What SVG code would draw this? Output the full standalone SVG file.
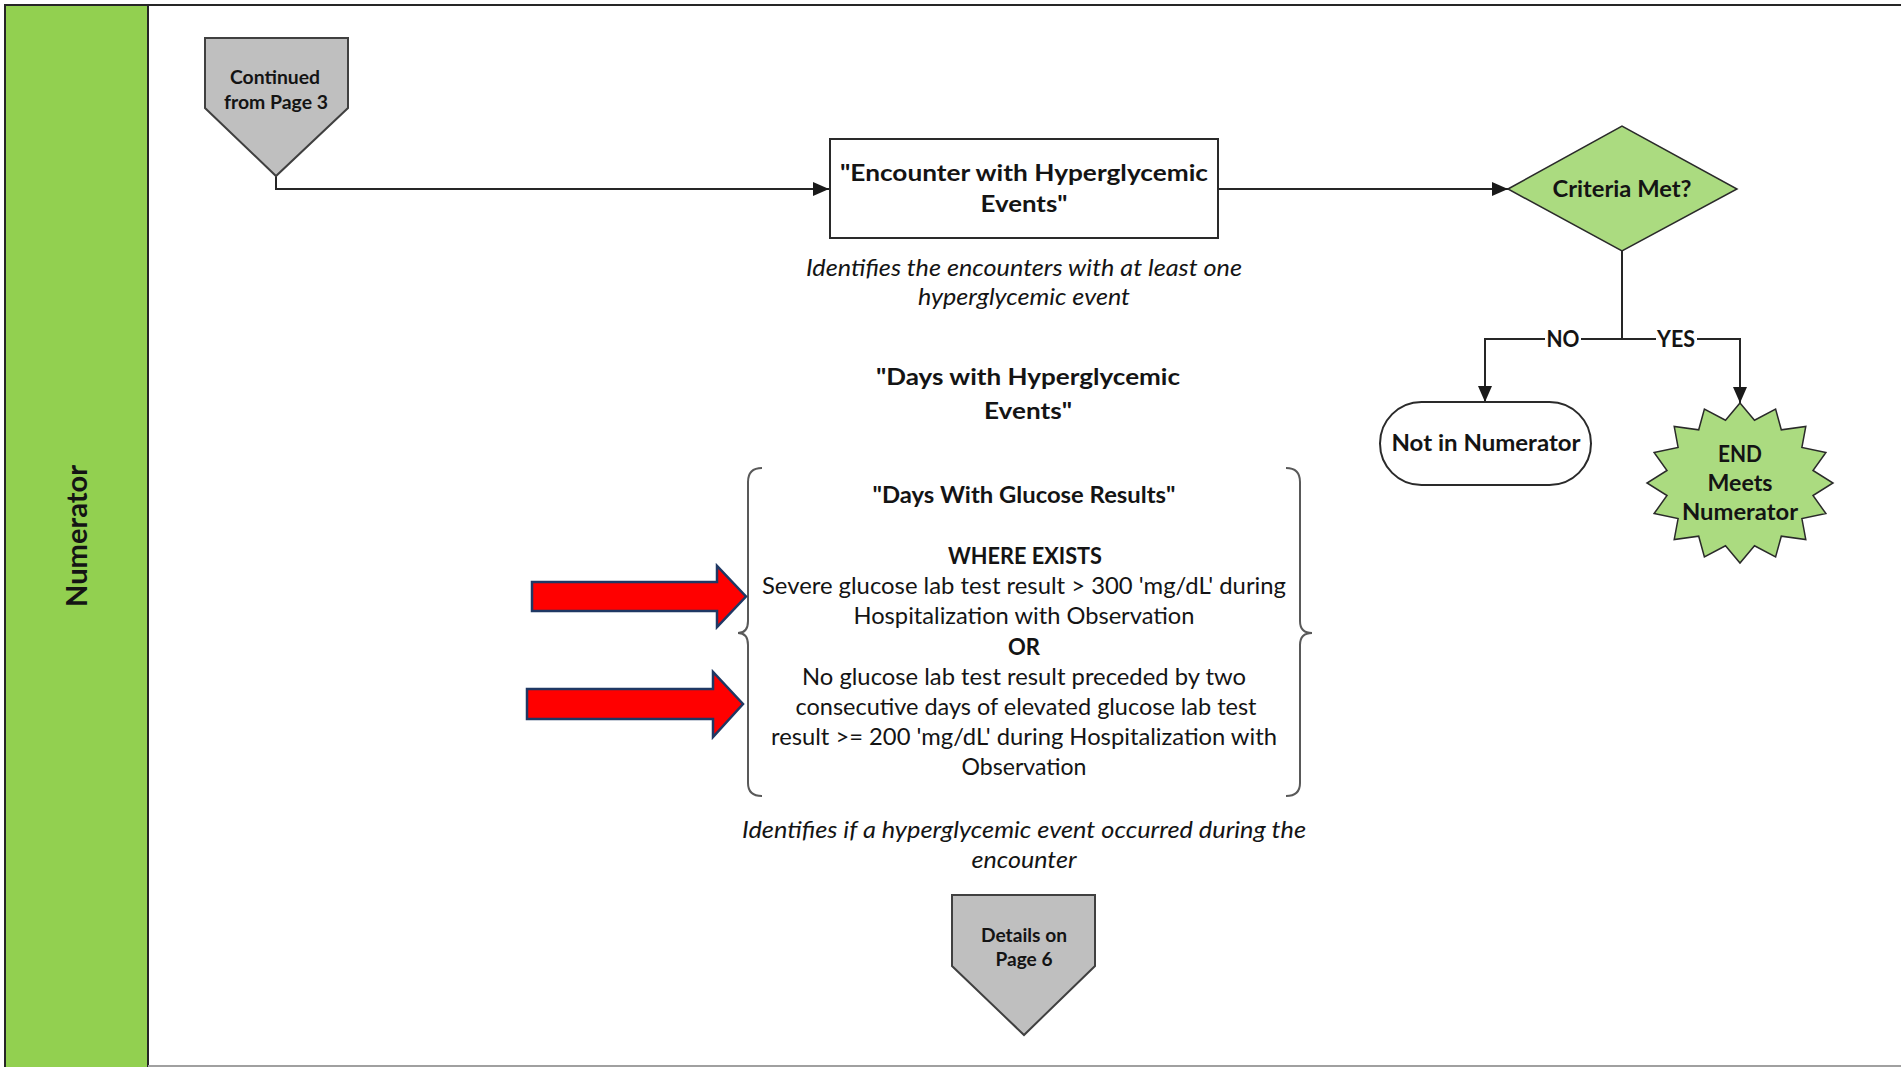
<svg xmlns="http://www.w3.org/2000/svg" width="1901" height="1067" viewBox="0 0 1901 1067">
<defs>
<marker id="ah" markerUnits="userSpaceOnUse" markerWidth="16" markerHeight="14" refX="16" refY="7" orient="auto">
<path d="M0,0 L16,7 L0,14 z" fill="#1a1a1a"/>
</marker>
<style>
text{font-family:Lato,"Liberation Sans",sans-serif;fill:#141414;text-anchor:middle}
.b{font-weight:700;font-size:23px}
.r{font-size:23px}
.i{font-style:italic;font-size:23px}
.s{font-weight:700;font-size:19px}
.ln{fill:none;stroke:#262626;stroke-width:2}
.shape{stroke:#2a2a2a;stroke-width:2}
.pent{fill:#bfbfbf;stroke:#404040;stroke-width:2}
.green{fill:#abdb80;stroke:#2a2a2a;stroke-width:1.5}
.brace{fill:none;stroke:#595959;stroke-width:2}
.red{fill:#ff0000;stroke:#1f3864;stroke-width:2.5;stroke-linejoin:miter}
</style>
</defs>
<rect x="0" y="0" width="1901" height="1067" fill="#ffffff"/>
<g id="frame">
<rect x="5" y="5" width="143" height="1070" fill="#92d050" stroke="#262626" stroke-width="2"/>
<line x1="5" y1="5" x2="1901" y2="5" stroke="#262626" stroke-width="2"/>
<line x1="148" y1="1066" x2="1901" y2="1066" stroke="#a0a0a0" stroke-width="2"/>
<text class="b" style="font-size:28px" transform="translate(87,536) rotate(-90)" textLength="142" lengthAdjust="spacingAndGlyphs">Numerator</text>
</g>
<g id="connectors">
<path class="ln" d="M276,176 V189 H829" marker-end="url(#ah)"/>
<path class="ln" d="M1218,189 H1508" marker-end="url(#ah)"/>
<path class="ln" d="M1622,251 V339 H1485 V402" marker-end="url(#ah)"/>
<path class="ln" d="M1622,339 H1740 V403" marker-end="url(#ah)"/>
<rect x="1545" y="329" width="36" height="20" fill="#ffffff"/>
<text class="b" x="1563" y="347" textLength="33" lengthAdjust="spacingAndGlyphs">NO</text>
<rect x="1656" y="329" width="41" height="20" fill="#ffffff"/>
<text class="b" x="1676" y="347" textLength="38" lengthAdjust="spacingAndGlyphs">YES</text>
</g>
<g id="continued-from-page-3">
<polygon class="pent" points="205,38 348,38 348,108 276,176 205,108"/>
<text class="s" x="275" y="84" textLength="90" lengthAdjust="spacingAndGlyphs">Continued</text>
<text class="s" x="276" y="109" textLength="104" lengthAdjust="spacingAndGlyphs">from Page 3</text>
</g>
<g id="encounter">
<rect class="shape" x="830" y="139" width="388" height="99" fill="#ffffff"/>
<text class="b" x="1024" y="181" textLength="368" lengthAdjust="spacingAndGlyphs">"Encounter with Hyperglycemic</text>
<text class="b" x="1024" y="212" textLength="87" lengthAdjust="spacingAndGlyphs">Events"</text>
</g>
<g id="encounter-caption">
<text class="i" x="1024" y="276" textLength="436" lengthAdjust="spacingAndGlyphs">Identifies the encounters with at least one</text>
<text class="i" x="1024" y="305" textLength="212" lengthAdjust="spacingAndGlyphs">hyperglycemic event</text>
</g>
<g id="criteria">
<polygon class="green" points="1508,189 1622,126 1737,189 1622,251"/>
<text class="b" x="1622" y="197" textLength="139" lengthAdjust="spacingAndGlyphs">Criteria Met?</text>
</g>
<g id="not-in-numerator">
<rect class="shape" x="1380" y="402" width="211" height="83" rx="41.5" ry="41.5" fill="#ffffff"/>
<text class="b" x="1486" y="451" textLength="189" lengthAdjust="spacingAndGlyphs">Not in Numerator</text>
</g>
<g id="end-meets-numerator">
<polygon class="green" points="1740,403 1754.5,420.2 1775.6,409.1 1781.3,429.8 1805.8,426.4 1801.9,447.4 1825.9,452.4 1813,470.5 1833,483 1813,495.5 1825.9,513.6 1801.9,518.6 1805.8,539.6 1781.3,536.2 1775.6,556.9 1754.5,545.8 1740,563 1725.5,545.8 1704.4,556.9 1698.7,536.2 1674.2,539.6 1678.1,518.6 1654.1,513.6 1667,495.5 1647,483 1667,470.5 1654.1,452.4 1678.1,447.4 1674.2,426.4 1698.7,429.8 1704.4,409.1 1725.5,420.2"/>
<text class="b" x="1740" y="462" textLength="44" lengthAdjust="spacingAndGlyphs">END</text>
<text class="b" x="1740" y="491" textLength="65" lengthAdjust="spacingAndGlyphs">Meets</text>
<text class="b" x="1740" y="520" textLength="116" lengthAdjust="spacingAndGlyphs">Numerator</text>
</g>
<g id="days-with-hyperglycemic-events">
<text class="b" x="1028" y="385" textLength="304" lengthAdjust="spacingAndGlyphs">"Days with Hyperglycemic</text>
<text class="b" x="1028" y="419" textLength="88" lengthAdjust="spacingAndGlyphs">Events"</text>
</g>
<g id="definition">
<path class="brace" d="M762,468 Q748,468 748,482 V621 Q748,633 738,633 Q748,633 748,645 V783 Q748,796 762,796"/>
<path class="brace" d="M1286,468 Q1300,468 1300,482 V621 Q1300,633 1312,633 Q1300,633 1300,645 V783 Q1300,796 1286,796"/>
<text class="b" x="1024" y="503" textLength="303" lengthAdjust="spacingAndGlyphs">"Days With Glucose Results"</text>
<text class="b" x="1025" y="564" textLength="154" lengthAdjust="spacingAndGlyphs">WHERE EXISTS</text>
<text class="r" x="1024" y="594" textLength="524" lengthAdjust="spacingAndGlyphs">Severe glucose lab test result &gt; 300 'mg/dL' during</text>
<text class="r" x="1024" y="624" textLength="341" lengthAdjust="spacingAndGlyphs">Hospitalization with Observation</text>
<text class="b" x="1024" y="655" textLength="32" lengthAdjust="spacingAndGlyphs">OR</text>
<text class="r" x="1024" y="685" textLength="444" lengthAdjust="spacingAndGlyphs">No glucose lab test result preceded by two</text>
<text class="r" x="1026" y="715" textLength="461" lengthAdjust="spacingAndGlyphs">consecutive days of elevated glucose lab test</text>
<text class="r" x="1024" y="745" textLength="506" lengthAdjust="spacingAndGlyphs">result &gt;= 200 'mg/dL' during Hospitalization with</text>
<text class="r" x="1024" y="775" textLength="125" lengthAdjust="spacingAndGlyphs">Observation</text>
</g>
<g id="red-arrows">
<polygon class="red" points="532,582 717,582 717,566 746,596.5 717,627 717,611 532,611"/>
<polygon class="red" points="527,689 713,689 713,672 743,704 713,737 713,719 527,719"/>
</g>
<g id="definition-caption">
<text class="i" x="1024" y="838" textLength="564" lengthAdjust="spacingAndGlyphs">Identifies if a hyperglycemic event occurred during the</text>
<text class="i" x="1024" y="868" textLength="105" lengthAdjust="spacingAndGlyphs">encounter</text>
</g>
<g id="details-on-page-6">
<polygon class="pent" points="952,895 1095,895 1095,966 1024,1035 952,966"/>
<text class="s" x="1024" y="942" textLength="86" lengthAdjust="spacingAndGlyphs">Details on</text>
<text class="s" x="1024" y="966" textLength="57" lengthAdjust="spacingAndGlyphs">Page 6</text>
</g>
</svg>
